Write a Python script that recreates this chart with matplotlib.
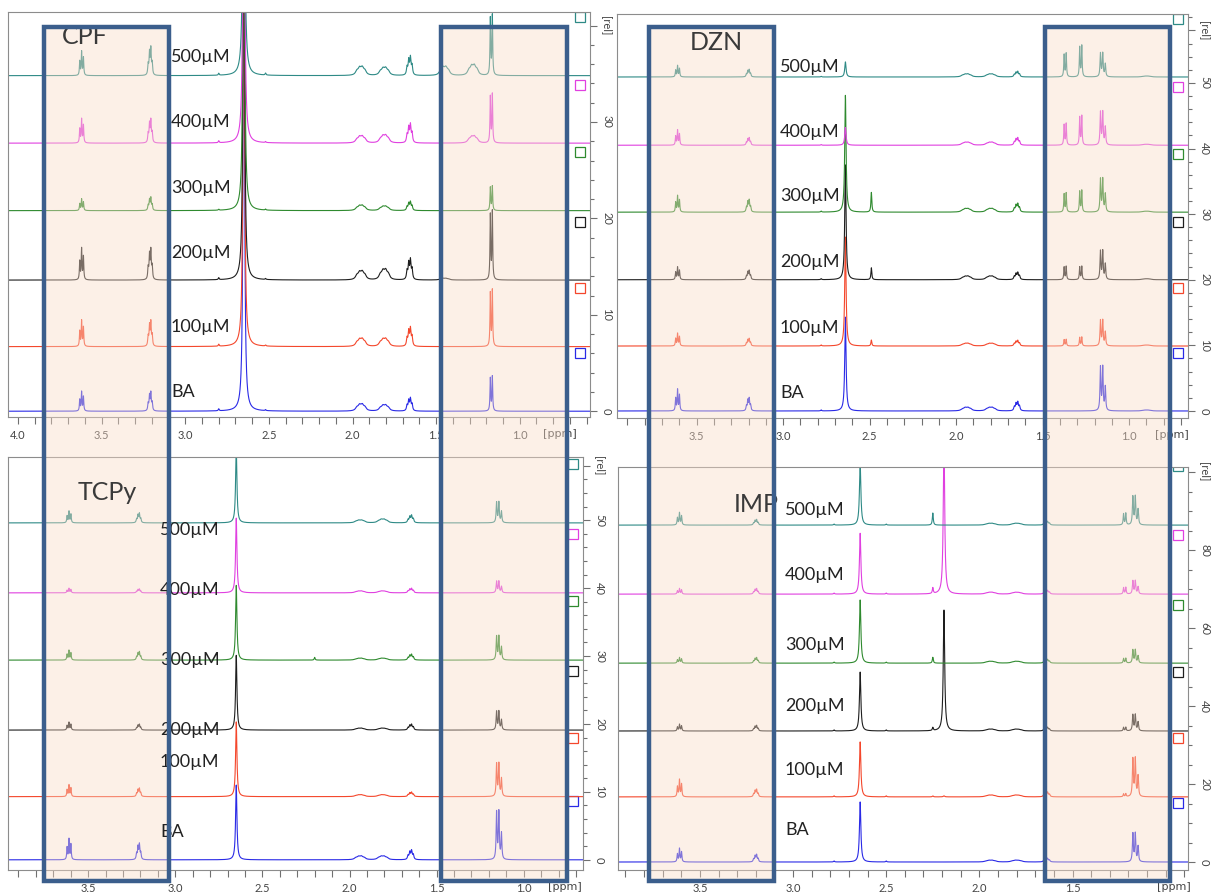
import numpy as np
import matplotlib.pyplot as plt
from matplotlib.patches import Rectangle
from matplotlib.ticker import FixedLocator, MultipleLocator

plt.rcParams['font.family'] = ['Lato', 'DejaVu Sans']

# sample order in every panel: BA, 100, 200, 300, 400, 500 uM
samples = ['BA', '100µM', '200µM', '300µM', '400µM', '500µM']
colors = ['#2a2ae6', '#f4472c', '#1e1e1e', '#2f8a2f', '#e040e0', '#2e8a86']

# CPF (top left) - peak positions [ppm], multiplet type, heights [rel]
cpf_shifts = [3.62, 3.21, 2.80, 2.65, 2.52, 1.95, 1.81, 1.66, 1.45, 1.28, 1.17]
cpf_shapes = ['t', 'q', 's', 'S', 's', 'b', 'b', 'm', 'b', 'b', 'd']
cpf_heights = [
    [2.1, 2.1, 0.2, 60, 0.1, 0.8, 0.7, 1.45, 0.0, 0.0, 3.7],
    [2.8, 2.8, 0.2, 60, 0.1, 0.9, 0.9, 2.1, 0.0, 0.0, 6.0],
    [3.4, 3.4, 0.2, 60, 0.1, 1.0, 1.2, 2.3, 0.2, 0.0, 7.3],
    [1.25, 1.45, 0.1, 60, 0.1, 0.6, 0.5, 1.0, 0.0, 0.0, 2.6],
    [2.6, 2.6, 0.2, 60, 0.1, 0.8, 0.9, 2.1, 0.0, 0.8, 5.2],
    [2.6, 3.1, 0.2, 60, 0.2, 1.0, 0.9, 2.1, 1.0, 1.2, 6.4],
]
cpf_offsets = [0, 6.7, 13.6, 20.8, 27.8, 34.8]

# DZN (top right)
dzn_shifts = [3.61, 3.20, 2.78, 2.64, 2.49, 1.94, 1.80, 1.65, 1.37, 1.28, 1.16, 0.90]
dzn_shapes = ['t', 'q', 's', 'S', 's', 'b', 'b', 'm', 'd', 'd', 'D', 'b']
dzn_heights = [
    [3.4, 2.1, 0.15, 14.3, 0.0, 0.6, 0.6, 1.5, 0.0, 0.0, 7.0, 0.15],
    [2.0, 1.2, 0.15, 16.6, 0.9, 0.45, 0.45, 0.9, 1.05, 1.4, 4.1, 0.15],
    [2.0, 1.5, 0.15, 17.5, 1.8, 0.6, 0.6, 1.2, 2.1, 2.1, 4.6, 0.15],
    [2.6, 2.0, 0.15, 17.8, 3.0, 0.6, 0.6, 1.4, 3.0, 3.4, 5.3, 0.15],
    [2.4, 1.2, 0.1, 2.7, 0.0, 0.5, 0.5, 1.2, 3.4, 4.6, 5.3, 0.15],
    [1.8, 1.2, 0.1, 2.3, 0.0, 0.5, 0.5, 0.9, 3.7, 4.9, 3.8, 0.15],
]
dzn_offsets = [0, 9.9, 20.0, 30.3, 40.5, 50.9]

# TCPy (bottom left)
tcp_shifts = [3.61, 3.21, 2.65, 2.20, 1.94, 1.81, 1.65, 1.15]
tcp_shapes = ['t', 'q', 'S', 's', 'b', 'b', 'm', 'D']
tcp_heights = [
    [3.2, 2.5, 11, 0.0, 0.6, 0.6, 1.5, 7.4],
    [1.8, 1.3, 11, 0.0, 0.3, 0.3, 0.7, 5.1],
    [1.2, 0.9, 11, 0.0, 0.3, 0.3, 0.9, 2.9],
    [1.5, 1.3, 11, 0.4, 0.3, 0.3, 0.9, 3.7],
    [0.7, 0.6, 11, 0.0, 0.3, 0.3, 0.7, 1.8],
    [1.8, 1.5, 11, 0.0, 0.45, 0.6, 1.2, 3.2],
]
tcp_offsets = [0, 9.3, 19.1, 29.4, 39.3, 49.6]

# IMP (bottom right)
imp_shifts = [3.61, 3.20, 2.78, 2.64, 2.50, 2.25, 2.19, 1.94, 1.80, 1.64, 1.22, 1.17]
imp_shapes = ['t', 'q', 's', 'S', 's', 's', 'S', 'b', 'b', 'm', 'd', 'D']
imp_heights = [
    [3.6, 2.05, 0.25, 15.4, 0.25, 0.0, 0.0, 0.5, 0.5, 1.0, 0.0, 7.7],
    [4.6, 2.05, 0.25, 14.1, 0.25, 0.25, 0.25, 0.5, 0.5, 1.3, 0.8, 10.3],
    [1.8, 1.5, 0.25, 15.1, 0.25, 0.8, 31, 0.5, 0.5, 1.0, 1.0, 4.4],
    [1.5, 1.5, 0.25, 16.2, 0.25, 1.5, 0.0, 0.5, 0.5, 1.0, 1.3, 3.6],
    [1.5, 1.5, 0.25, 15.6, 0.25, 1.5, 40, 0.5, 0.5, 1.0, 1.8, 3.6],
    [3.3, 1.5, 0.25, 16.0, 0.25, 3.1, 0.0, 0.5, 0.5, 1.0, 3.1, 7.7],
]
imp_offsets = [0, 16.7, 33.6, 51.0, 68.7, 86.4]

# multiplet patterns: line offsets [ppm], relative amplitudes, half width
patterns = {
    's': ([0.0], [1.0], 0.003),
    'S': ([0.0], [1.0], 0.0045),
    'd': ([-0.006, 0.006], [1.0, 0.95], 0.0025),
    't': ([-0.011, 0.0, 0.011], [0.75, 1.0, 0.6], 0.0025),
    'q': ([-0.012, -0.004, 0.004, 0.012], [0.45, 1.0, 0.85, 0.4], 0.003),
    'm': ([-0.016, -0.006, 0.004, 0.014], [0.55, 1.0, 0.85, 0.45], 0.004),
    'b': ([-0.024, -0.008, 0.008, 0.024], [0.6, 1.0, 0.95, 0.55], 0.01),
    'D': ([-0.022, -0.007, 0.006], [0.55, 1.0, 1.0], 0.003),
}


def lineshape(ppm, centre, key):
    offs, amps, w = patterns[key]
    y = np.zeros_like(ppm)
    for o, a in zip(offs, amps):
        y += a / (1 + ((ppm - centre - o) / w) ** 2)
    return y / y.max()


W, H = 1213, 893
fig = plt.figure(figsize=(W / 100, H / 100), dpi=100)


def fbox(x0, y0, x1, y1):
    return [x0 / W, 1 - y1 / H, (x1 - x0) / W, (y1 - y0) / H]


panels = [
    dict(name='CPF', box=(8, 12, 590, 417), xlim=(4.06, 0.58), ylim=(-0.6, 41.4),
         yt=[0, 10, 20, 30, 40], ymin=2, xmaj=[4.0, 3.5, 3.0, 2.5, 2.0, 1.5, 1.0],
         shifts=cpf_shifts, shapes=cpf_shapes, heights=cpf_heights, offsets=cpf_offsets,
         ppm_x=0.948, title_xy=(85, 36),
         text_xy=[(171, 392), (171, 327), (171, 253), (171, 188), (171, 122), (171, 57)]),
    dict(name='DZN', box=(617, 14, 1188, 418), xlim=(3.96, 0.66), ylim=(-1.07, 60.5),
         yt=[0, 10, 20, 30, 40, 50, 58], ymin=2, xmaj=[3.5, 3.0, 2.5, 2.0, 1.5, 1.0],
         shifts=dzn_shifts, shapes=dzn_shapes, heights=dzn_heights, offsets=dzn_offsets,
         ppm_x=0.972, title_xy=(716, 42),
         text_xy=[(780, 393), (780, 328), (780, 262), (780, 196), (780, 132), (780, 67)]),
    dict(name='TCPy', box=(8, 457, 583, 870), xlim=(3.96, 0.66), ylim=(-1.5, 59.3),
         yt=[0, 10, 20, 30, 40, 50, 58], ymin=2, xmaj=[3.5, 3.0, 2.5, 2.0, 1.5, 1.0],
         shifts=tcp_shifts, shapes=tcp_shapes, heights=tcp_heights, offsets=tcp_offsets,
         ppm_x=0.969, title_xy=(107, 493),
         text_xy=[(160, 832), (160, 762), (160, 730), (160, 660), (160, 590), (160, 530)]),
    dict(name='IMP', box=(618, 467, 1188, 870), xlim=(3.94, 0.88), ylim=(-2.05, 101.3),
         yt=[0, 20, 40, 60, 80, 100], ymin=5, xmaj=[3.5, 3.0, 2.5, 2.0, 1.5],
         shifts=imp_shifts, shapes=imp_shapes, heights=imp_heights, offsets=imp_offsets,
         ppm_x=0.975, title_xy=(756, 505),
         text_xy=[(785, 830), (785, 770), (785, 706), (785, 645), (785, 575), (785, 510)]),
]

for p in panels:
    ax = fig.add_axes(fbox(*p['box']))
    ppm = np.linspace(p['xlim'][0], p['xlim'][1], 9000)
    step = np.mean(np.diff(p['offsets']))
    for i in range(len(samples)):
        y = np.zeros_like(ppm)
        for c, s, h in zip(p['shifts'], p['shapes'], p['heights'][i]):
            if h > 0:
                y += h * lineshape(ppm, c, s)
        ax.plot(ppm, p['offsets'][i] + y, color=colors[i], lw=0.8)
        # sample marker square at the right edge
        ax.plot([0.982], [p['offsets'][i] + 0.87 * step], transform=ax.get_yaxis_transform(),
                ls='none', marker='s', ms=7, mfc='none', mec=colors[i], mew=0.9)

    ax.set_xlim(*p['xlim'])
    ax.set_ylim(*p['ylim'])
    for sp in ax.spines.values():
        sp.set_color('#8c8c8c')
        sp.set_linewidth(0.8)
    ax.xaxis.set_major_locator(FixedLocator(p['xmaj']))
    ax.xaxis.set_minor_locator(MultipleLocator(0.1))
    ax.set_xticklabels(['%.1f' % v for v in p['xmaj']])
    ax.tick_params(axis='x', which='both', direction='out', length=5, width=0.8,
                   color='#707070', labelsize=8, labelcolor='#444444', pad=4)
    ax.yaxis.tick_right()
    ax.yaxis.set_major_locator(FixedLocator(p['yt']))
    ax.yaxis.set_minor_locator(MultipleLocator(p['ymin']))
    ax.set_yticklabels([str(v) for v in p['yt'][:-1]] + ['[rel]'])
    ax.tick_params(axis='y', which='major', direction='out', length=5, width=0.8,
                   color='#707070', labelsize=8, labelcolor='#444444', labelrotation=-90, pad=3)
    ax.tick_params(axis='y', which='minor', direction='out', length=3, width=0.8, color='#707070')
    for lab in ax.get_yticklabels():
        lab.set_va('center')
    ax.annotate('[ppm]', xy=(p['ppm_x'], 0), xycoords='axes fraction', xytext=(0, -12),
                textcoords='offset points', ha='center', va='center', fontsize=8,
                color='#444444', family='DejaVu Sans')

    tx, ty = p['title_xy']
    fig.text(tx / W, 1 - ty / H, p['name'], fontsize=18, color='#3a3a3a',
             ha='center', va='center', zorder=4)
    for lab, (x, y) in zip(samples, p['text_xy']):
        fig.text(x / W, 1 - y / H, lab, fontsize=13, color='#222222',
                 ha='left', va='center', zorder=4)

# highlighted regions (drawn over the panels)
for x0, x1 in [(44, 169), (441, 567), (649, 774), (1045, 1170)]:
    fig.patches.append(Rectangle((x0 / W, 1 - 881 / H), (x1 - x0) / W, (881 - 27) / H,
                                 transform=fig.transFigure, facecolor='#f9dcc8',
                                 alpha=0.42, edgecolor='none', zorder=2))
    fig.patches.append(Rectangle((x0 / W, 1 - 881 / H), (x1 - x0) / W, (881 - 27) / H,
                                 transform=fig.transFigure, facecolor='none',
                                 edgecolor='#3b5e8c', linewidth=3.2, zorder=5))

fig.savefig('out.png', dpi=100)
